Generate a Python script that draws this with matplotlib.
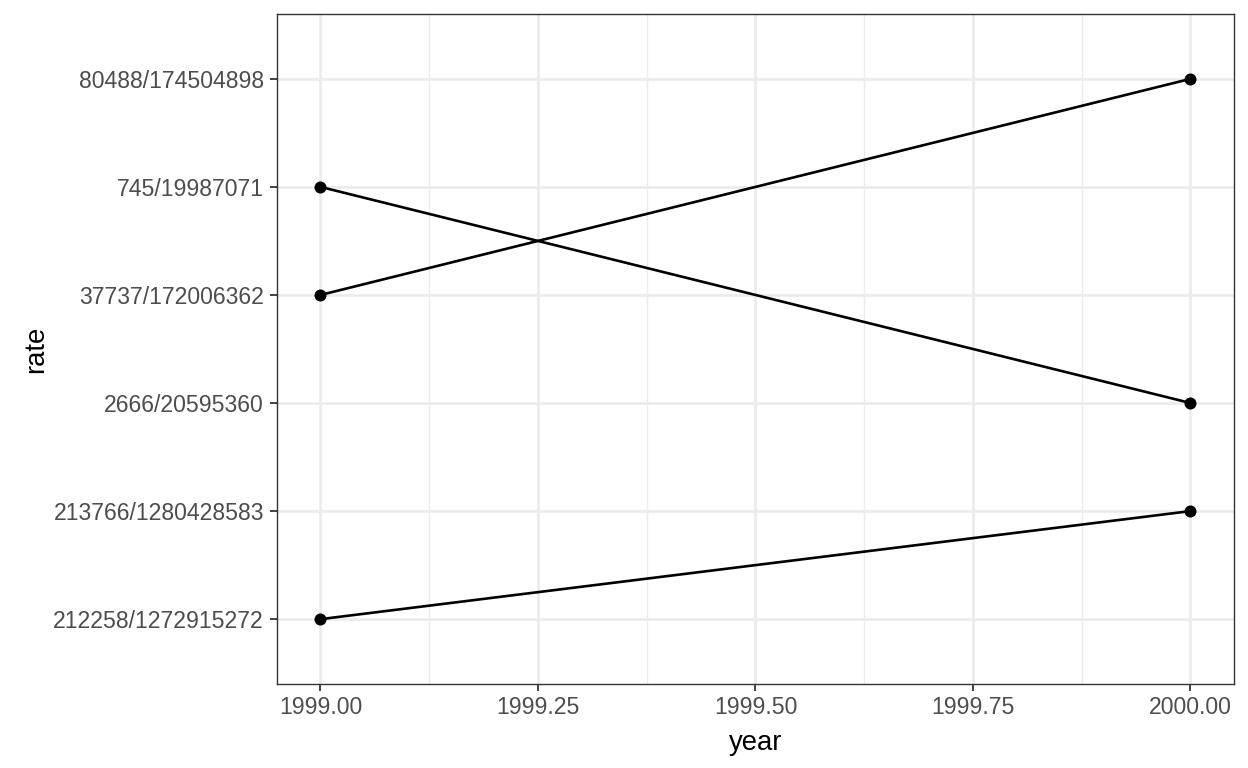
import matplotlib
matplotlib.use("Agg")
import matplotlib.pyplot as plt
from matplotlib.ticker import MultipleLocator, FormatStrFormatter

plt.rcParams['font.family'] = ['Liberation Sans', 'DejaVu Sans']

# data: rate as a categorical string per country/year
countries = ["Afghanistan", "Brazil", "China"]
years = [1999, 2000]
rates = {
    "Afghanistan": ["745/19987071", "2666/20595360"],
    "Brazil": ["37737/172006362", "80488/174504898"],
    "China": ["212258/1272915272", "213766/1280428583"],
}

# discrete axis levels, sorted like a factor
levels = sorted(r for c in countries for r in rates[c])
pos = {lv: i + 1 for i, lv in enumerate(levels)}

fig = plt.figure(figsize=(12.48, 7.68), dpi=100)
ax = fig.add_axes([277 / 1248, 1 - 684 / 768, (1234 - 277) / 1248, (684 - 14) / 768])

for c in countries:
    ys = [pos[r] for r in rates[c]]
    ax.plot(years, ys, color="black", lw=1.9, zorder=3)
    ax.scatter(years, ys, s=75, color="black", zorder=4, linewidths=0)

ax.set_xlim(1998.95, 2000.05)
ax.set_ylim(0.4, len(levels) + 0.6)
ax.xaxis.set_major_locator(MultipleLocator(0.25))
ax.xaxis.set_minor_locator(MultipleLocator(0.125))
ax.xaxis.set_major_formatter(FormatStrFormatter("%.2f"))
ax.set_yticks(range(1, len(levels) + 1))
ax.set_yticklabels(levels)

ax.grid(True, which="major", color="#EBEBEB", lw=1.9, zorder=0)
ax.grid(True, which="minor", axis="x", color="#EBEBEB", lw=0.95, zorder=0)
ax.set_axisbelow(True)

for s in ax.spines.values():
    s.set_color("#333333")
    s.set_linewidth(1.0)

ax.tick_params(axis="both", which="major", length=5, width=1.3, color="#333333",
               labelsize=16.6, labelcolor="#4D4D4D")
ax.tick_params(axis="y", which="major", pad=4.3)
ax.tick_params(axis="x", which="major", pad=3.5)
ax.tick_params(axis="x", which="minor", length=0)

ax.set_xlabel("year", fontsize=19.8, color="black", labelpad=8)
ax.set_ylabel("rate", fontsize=19.8, color="black", labelpad=3)

fig.savefig("out.png", dpi=100)
